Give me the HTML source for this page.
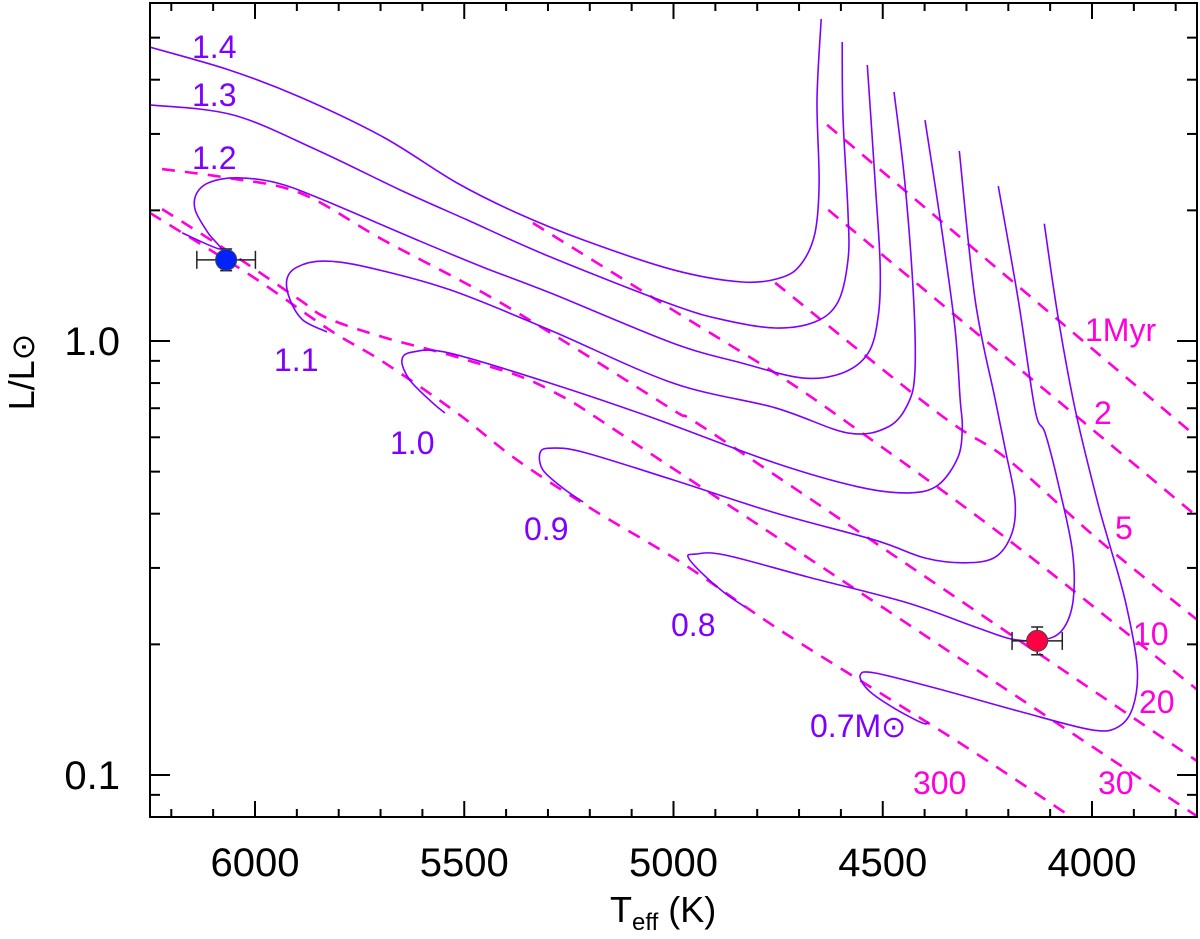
<!DOCTYPE html>
<html><head><meta charset="utf-8"><style>
html,body{margin:0;padding:0;background:#fff;}
svg{display:block;font-family:"Liberation Sans",sans-serif;}
</style></head><body>
<svg id="chart" width="1200" height="939" viewBox="0 0 1200 939" xmlns="http://www.w3.org/2000/svg">
<defs><clipPath id="plotclip"><rect x="150" y="3" width="1047" height="814"/></clipPath></defs>
<rect x="0" y="0" width="1200" height="939" fill="#fff"/>
<g id="isos" clip-path="url(#plotclip)"></g>
<g id="tracks" clip-path="url(#plotclip)"></g>
<g id="pts"></g>
<g id="axes"></g>
<g fill="#7f00ff" font-size="32">
<text x="192" y="58">1.4</text>
<text x="192" y="106">1.3</text>
<text x="192" y="169">1.2</text>
<text x="274" y="371">1.1</text>
<text x="390" y="454">1.0</text>
<text x="524" y="540">0.9</text>
<text x="671" y="636">0.8</text>
<text x="810" y="737">0.7M<tspan font-size="30">⊙</tspan></text>
</g>
<g fill="#ff00dd" font-size="32">
<text x="1085" y="341">1Myr</text>
<text x="1094" y="424">2</text>
<text x="1115" y="539">5</text>
<text x="1133" y="645">10</text>
<text x="1139" y="713">20</text>
<text x="1098" y="794">30</text>
<text x="913" y="794">300</text>
</g>
<text x="610" y="922" font-size="36">T<tspan font-size="24" dy="8">eff</tspan><tspan dy="-8"> (K)</tspan></text>
<text transform="translate(34,372) rotate(-90)" text-anchor="middle" font-size="36">L/L<tspan font-size="32">⊙</tspan></text>
</svg>
<script>
const xTicksMajor=[6000,5500,5000,4500,4000];
const xTickLabels=["6000","5500","5000","4500","4000"];
const yTicksMajor=[0.1,1.0];
const yTickLabels=["0.1","1.0"];
const trackMasses=["1.4","1.3","1.2","1.1","1.0","0.9","0.8","0.7"];
const t14=[6251,6060,5892,5694,5517,5374,5216,5001,4836,4740,4693,4662,4652,4657,4647];
const l14=[0.677,0.624,0.562,0.470,0.364,0.295,0.233,0.164,0.136,0.147,0.180,0.249,0.364,0.555,0.742];
const t13=[6251,6053,5852,5653,5493,5295,5001,4877,4757,4662,4607,4583,4583,4595,4597];
const l13=[0.544,0.521,0.440,0.348,0.279,0.194,0.083,0.048,0.030,0.044,0.090,0.187,0.295,0.516,0.689];
const t12=[6174,6084,6112,6143,6139,6108,6043,5947,5837,5613,5455,5295,5001,4836,4693,4597,4535,4511,4506,4518,4537];
const l12=[0.249,0.212,0.249,0.302,0.341,0.366,0.376,0.364,0.325,0.233,0.170,0.111,-0.005,-0.051,-0.085,-0.074,-0.028,0.055,0.170,0.364,0.636];
const t11=[5828,5885,5916,5924,5900,5837,5732,5534,5295,5001,4757,4583,4487,4439,4423,4427,4447,4473];
const l11=[0.021,0.048,0.094,0.141,0.170,0.184,0.170,0.118,0.025,-0.097,-0.154,-0.212,-0.198,-0.143,-0.067,0.111,0.364,0.574];
const t10=[5546,5575,5630,5649,5622,5534,5295,5056,4757,4559,4439,4368,4320,4310,4315,4327,4358,4399];
const l10=[-0.166,-0.143,-0.090,-0.044,-0.025,-0.028,-0.097,-0.175,-0.281,-0.336,-0.350,-0.332,-0.267,-0.198,-0.136,0.025,0.249,0.509];
const t09=[5216,5264,5312,5319,5295,5216,5001,4757,4518,4399,4303,4231,4191,4184,4207,4231,4279,4317];
const l09=[-0.371,-0.339,-0.297,-0.258,-0.247,-0.256,-0.320,-0.396,-0.459,-0.500,-0.511,-0.498,-0.442,-0.366,-0.251,-0.136,0.094,0.438];
const t08=[4829,4877,4932,4965,4948,4877,4678,4439,4279,4191,4119,4071,4045,4047,4081,4112,4136,4176,4224];
const l08=[-0.613,-0.581,-0.535,-0.498,-0.491,-0.493,-0.544,-0.604,-0.659,-0.687,-0.689,-0.666,-0.597,-0.482,-0.327,-0.212,-0.159,0.094,0.357];
const t07=[4391,4406,4478,4535,4554,4518,4358,4160,4000,3937,3902,3892,3921,3961,3988,4040,4081,4114];
const l07=[-0.878,-0.880,-0.843,-0.804,-0.770,-0.765,-0.804,-0.857,-0.896,-0.889,-0.843,-0.751,-0.597,-0.459,-0.366,-0.159,0.055,0.270];
const isoAges=["1","2","5","10","20","30","300"];
const ti1=[4633,3718]; const li1=[0.498,-0.247];
const ti2=[4630,3718]; const li2=[0.302,-0.429];
const ti5=[4757,4368,4200,3976,3718]; const li5=[0.134,-0.166,-0.274,-0.465,-0.666];
const ti10=[5336,5001,4757,4583,4200,3718]; const li10=[0.272,0.071,-0.074,-0.189,-0.458,-0.827];
const ti20=[6222,6067,5892,5694,5455,5254,5001,4836,3718]; const li20=[0.396,0.376,0.341,0.233,0.111,-0.005,-0.159,-0.258,-0.988];
const ti30=[6222,6069,5892,5828,5694,5493,5295,4996,3718]; const li30=[0.304,0.210,0.094,0.053,0.009,-0.044,-0.113,-0.297,-1.115];
const ti300=[6251,6012,5821,5694,5517,5374,5192,4979,4757,4518,4279,4040]; const li300=[0.295,0.152,0.025,-0.048,-0.166,-0.274,-0.389,-0.512,-0.659,-0.804,-0.949,-1.103];
const starNames=["blue-star","red-star"];
const starT=[6069,4131];
const starTerr=[70,60];
const starLogL=[0.187,-0.691];
const starLogLerr=[0.025,0.032];
const starColor=["#0022ff","#ff0044"];

const NS="http://www.w3.org/2000/svg";
function X(T){return 255+(6000-T)*0.4185;}
function Y(logL){return 341-434*logL;}
function mk(tag,attrs,parent){const e=document.createElementNS(NS,tag);for(const k in attrs)e.setAttribute(k,attrs[k]);parent.appendChild(e);return e;}
function smoothD(ts,ls){
  const p=ts.map((t,i)=>[X(t),Y(ls[i])]);
  if(p.length<3) return "M"+p.map(q=>q[0].toFixed(1)+" "+q[1].toFixed(1)).join(" L");
  let d="M"+p[0][0].toFixed(1)+" "+p[0][1].toFixed(1);
  for(let i=0;i<p.length-1;i++){
    const p0=p[Math.max(0,i-1)],p1=p[i],p2=p[i+1],p3=p[Math.min(p.length-1,i+2)];
    const c1=[p1[0]+(p2[0]-p0[0])/6,p1[1]+(p2[1]-p0[1])/6];
    const c2=[p2[0]-(p3[0]-p1[0])/6,p2[1]-(p3[1]-p1[1])/6];
    d+=" C"+c1[0].toFixed(1)+" "+c1[1].toFixed(1)+" "+c2[0].toFixed(1)+" "+c2[1].toFixed(1)+" "+p2[0].toFixed(1)+" "+p2[1].toFixed(1);
  }
  return d;
}

const isoG=document.getElementById("isos");
const isoT=[ti1,ti2,ti5,ti10,ti20,ti30,ti300], isoL=[li1,li2,li5,li10,li20,li30,li300];
isoT.forEach((ts,i)=>{
  const p=mk("path",{d:smoothD(ts,isoL[i]),fill:"none",stroke:"#ff00dd","stroke-width":2.6,"stroke-dasharray":"13 10"},isoG);
  
  
});
const trG=document.getElementById("tracks");
const trT=[t14,t13,t12,t11,t10,t09,t08,t07], trL=[l14,l13,l12,l11,l10,l09,l08,l07];
trT.forEach((ts,i)=>{
  const p=mk("path",{d:smoothD(ts,trL[i]),fill:"none",stroke:"#7f00ff","stroke-width":1.6,"stroke-linejoin":"round"},trG);
  
  
});
const pG=document.getElementById("pts");
starT.forEach((t,i)=>{
  const cx=X(t), cy=Y(starLogL[i]);
  const x1=X(t+starTerr[i]), x2=X(t-starTerr[i]);
  const y1=Y(starLogL[i]+starLogLerr[i]), y2=Y(starLogL[i]-starLogLerr[i]);
  const g=mk("g",{stroke:"#222","stroke-width":1.5},pG);
  
  
  mk("line",{x1:x1,y1:cy,x2:x2,y2:cy},g);
  mk("line",{x1:x1,y1:cy-9,x2:x1,y2:cy+9},g);
  mk("line",{x1:x2,y1:cy-9,x2:x2,y2:cy+9},g);
  mk("line",{x1:cx,y1:y1,x2:cx,y2:y2},g);
  mk("line",{x1:cx-6,y1:y1,x2:cx+6,y2:y1},g);
  mk("line",{x1:cx-6,y1:y2,x2:cx+6,y2:y2},g);
  const c=mk("circle",{cx:cx,cy:cy,r:10.5,fill:starColor[i],stroke:"#444","stroke-width":1},pG);
  
  
});
const aG=document.getElementById("axes");
const L=150,R=1197,T0=3,B=817;
mk("rect",{x:L,y:T0,width:R-L,height:B-T0,fill:"none",stroke:"#000","stroke-width":2},aG);
for(let t=3800;t<=6200;t+=100){
  const x=X(t); const major=(t%500===0); const len=major?16:8;
  mk("line",{x1:x,y1:B,x2:x,y2:B-len,stroke:"#000","stroke-width":2},aG);
  mk("line",{x1:x,y1:T0,x2:x,y2:T0+len,stroke:"#000","stroke-width":2},aG);
}
xTicksMajor.forEach((t,i)=>{
  const tx=mk("text",{x:X(t),y:876,"text-anchor":"middle","font-size":40},aG);
  tx.textContent=xTickLabels[i];
  
  
});
const minorL=[0.09,0.2,0.3,0.4,0.5,0.6,0.7,0.8,0.9,2,3,4,5];
minorL.forEach(v=>{const y=Y(Math.log10(v));
  mk("line",{x1:L,y1:y,x2:L+10,y2:y,stroke:"#000","stroke-width":2},aG);
  mk("line",{x1:R,y1:y,x2:R-10,y2:y,stroke:"#000","stroke-width":2},aG);});
yTicksMajor.forEach((v,i)=>{const y=Y(Math.log10(v));
  mk("line",{x1:L,y1:y,x2:L+20,y2:y,stroke:"#000","stroke-width":2},aG);
  mk("line",{x1:R,y1:y,x2:R-20,y2:y,stroke:"#000","stroke-width":2},aG);
  const tx=mk("text",{x:120,y:y+14,"text-anchor":"end","font-size":40},aG);
  tx.textContent=yTickLabels[i];
  
  
});
</script>
</body></html>
